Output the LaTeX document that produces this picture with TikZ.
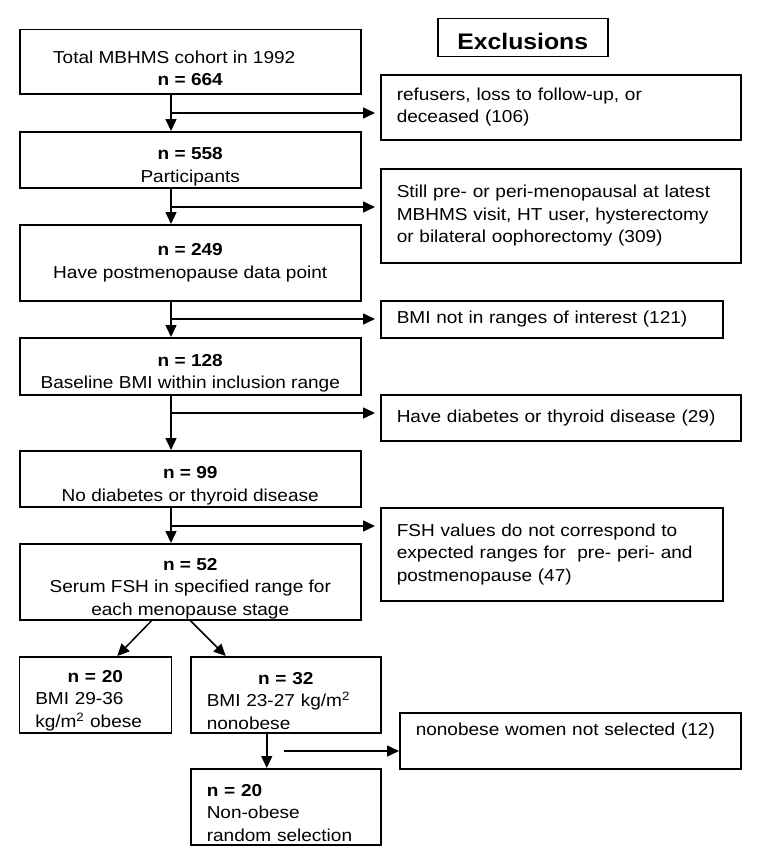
\documentclass[tikz,border=0pt]{standalone}
\usepackage{fontspec}
\setmainfont{Liberation Sans}[FakeStretch=1.1]
\usetikzlibrary{arrows.meta}
\newcommand{\padtop}{\rule{0pt}{26pt}}

\begin{document}
\begin{tikzpicture}[x=1pt, y=-1pt,
        > = {Triangle[length=12pt, width=11pt]},
        box/.style = {draw, line width=1.5pt, anchor=north west, inner sep=0pt,
            font=\fontsize{17.3}{22.5}\selectfont},
        lowtext/.style = {execute at begin node={\rule{0pt}{24pt}}},
        mainbox/.style = {box, minimum width=341pt, align=center},
        exclbox/.style = {box, inner xsep=16pt, align=left},
        subbox/.style = {box, inner xsep=16pt, align=left, minimum height=76pt, lowtext},
        link/.style = {->, line width=1.5pt}]
        \useasboundingbox (0,0) rectangle (756,867);

        % Main flow
        \node [mainbox, minimum height=64pt] (b1) at (19,29)
            {\padtop Total MBHMS cohort in 1992\hspace*{32pt}\\ \textbf{n = 664}};
        \node [mainbox, minimum height=56pt] (b2) at (19,131)
            {\padtop\textbf{n = 558}\\ Participants};
        \node [mainbox, minimum height=76pt] (b3) at (19,224)
            {\textbf{n = 249}\\ Have postmenopause data point};
        \node [mainbox, minimum height=57pt] (b4) at (19,337)
            {\padtop\textbf{n = 128}\\ Baseline BMI within inclusion range};
        \node [mainbox, minimum height=56pt] (b5) at (19,450)
            {\padtop\textbf{n = 99}\\ No diabetes or thyroid disease};
        \node [mainbox, minimum height=76pt] (b6) at (19,543)
            {\padtop\textbf{n = 52}\\ Serum FSH in specified range for\\ each menopause stage};

        % Split by BMI
        \node [subbox, text width=120pt] (c1) at (18.5,656)
            {\makebox[\linewidth]{\textbf{n = 20}}\\ BMI 29-36\\ kg/m\textsuperscript{2} obese};
        \node [subbox, text width=158pt] (c2) at (190,656)
            {\makebox[\linewidth]{\textbf{n = 32}}\\ BMI 23-27 kg/m\textsuperscript{2}\\ nonobese};
        \node [subbox, text width=158pt] (c3) at (190,768)
            {\textbf{n = 20}\\ Non-obese\\ random selection};

        % Exclusions
        \node [box, lowtext, minimum width=170pt, minimum height=38pt,
            font=\fontsize{22.5}{27}\selectfont\bfseries] (ex) at (437,18) {Exclusions};
        \node [exclbox, text width=328pt, minimum height=65pt] (e1) at (380,74)
            {refusers, loss to follow-up, or\\ deceased (106)};
        \node [exclbox, text width=328pt, minimum height=94pt] (e2) at (380,168)
            {Still pre- or peri-menopausal at latest\\ MBHMS visit, HT user, hysterectomy\\ or bilateral oophorectomy (309)};
        \node [exclbox, text width=310pt, minimum height=37pt] (e3) at (380,300)
            {BMI not in ranges of interest (121)};
        \node [exclbox, text width=328pt, minimum height=46pt] (e4) at (380,394)
            {Have diabetes or thyroid disease (29)};
        \node [exclbox, text width=310pt, minimum height=93pt] (e5) at (380,507)
            {FSH values do not correspond to\\ expected ranges for~ pre- peri- and\\ postmenopause (47)};
        \node [exclbox, text width=309pt, minimum height=56pt] (e6) at (399,712)
            {nonobese women not selected (12)\\ \mbox{}};

        % Draw the links
        \coordinate (sp) at (171,0);
        \coordinate (j1) at (171,113);
        \coordinate (j2) at (171,207);
        \coordinate (j3) at (171,319);
        \coordinate (j4) at (171,413);
        \coordinate (j5) at (171,526);
        \coordinate (j6) at (284,751);

        \draw [link] (b1.south -| sp) -- (b2.north -| sp);
        \draw [link] (b2.south -| sp) -- (b3.north -| sp);
        \draw [link] (b3.south -| sp) -- (b4.north -| sp);
        \draw [link] (b4.south -| sp) -- (b5.north -| sp);
        \draw [link] (b5.south -| sp) -- (b6.north -| sp);

        \draw [link, shorten >=5pt] (j1) -- (j1 -| e1.west);
        \draw [link, shorten >=5pt] (j2) -- (j2 -| e2.west);
        \draw [link, shorten >=5pt] (j3) -- (j3 -| e3.west);
        \draw [link, shorten >=5pt] (j4) -- (j4 -| e4.west);
        \draw [link, shorten >=5pt] (j5) -- (j5 -| e5.west);

        \draw [link] ([xshift=-38.5pt]b6.south) -- ([xshift=22pt]c1.north);
        \draw [link] (b6.south) -- ([xshift=-60pt]c2.north);
        \draw [link] ([xshift=-19pt]c2.south) -- ([xshift=-19pt]c3.north);
        \draw [link] (j6) -- (j6 -| e6.west);

    \end{tikzpicture}
\end{document}
